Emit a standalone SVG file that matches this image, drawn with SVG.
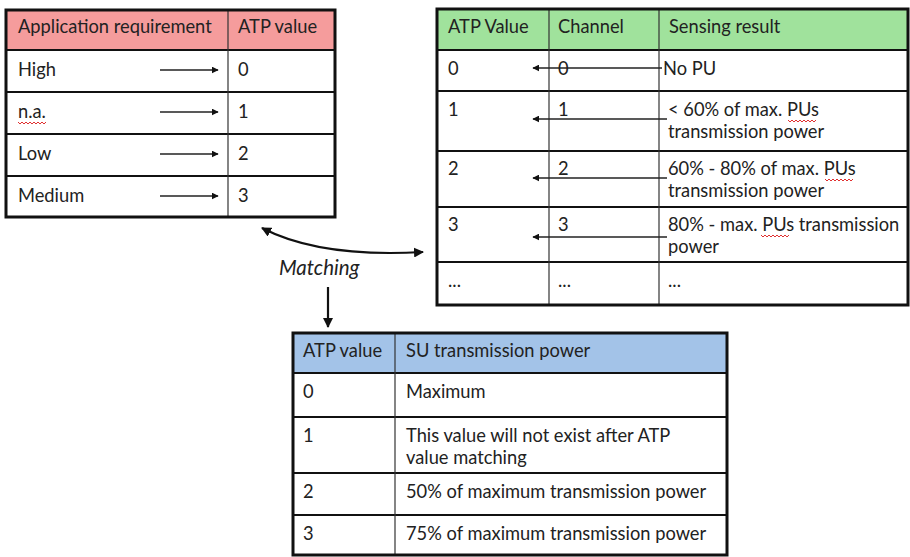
<svg xmlns="http://www.w3.org/2000/svg" width="910" height="557" viewBox="0 0 910 557">
  <style>
    text { font-family: "Lato", "Liberation Sans", sans-serif; font-size: 18.3px; fill: #222; }
    .italic { font-style: italic; font-size: 20.5px; }
    .frame { fill: none; stroke: #111; stroke-width: 3; }
    .hrule { stroke: #111; stroke-width: 2; }
    .vrule { stroke: #333; stroke-width: 1.2; }
    .thin { stroke: #222; stroke-width: 1.3; fill: none; }
    .bold { stroke: #111; stroke-width: 2.2; fill: none; }
    .spell { stroke: #e03030; stroke-width: 1; fill: none; }
  </style>
  <defs>
    <marker id="tri" viewBox="0 0 10 10" refX="9" refY="5" markerWidth="7" markerHeight="7" markerUnits="userSpaceOnUse" orient="auto">
      <path d="M0,0 L10,5 L0,10 Z" fill="#111"/>
    </marker>
    <marker id="head" viewBox="0 0 10 10" refX="9" refY="5" markerWidth="10" markerHeight="10" markerUnits="userSpaceOnUse" orient="auto-start-reverse">
      <path d="M0,0 L10,5 L0,10 Z" fill="#111"/>
    </marker>
    <!-- red proofing squiggle, placed under flagged words -->
    <path id="squiggle" class="spell" d="M0,0 l2,2 l2,-2 l2,2 l2,-2 l2,2 l2,-2 l2,2 l2,-2 l2,2 l2,-2 l2,2 l2,-2 l2,2 l2,-2"/>
  </defs>

  <rect width="910" height="557" fill="#fff"/>

  <!-- Application requirement -> ATP value -->
  <g id="requirement-table">
    <rect x="6" y="10" width="329" height="40" fill="#f59c9c"/>
    <line class="hrule" x1="6" y1="50" x2="335" y2="50"/>
    <line class="hrule" x1="6" y1="92" x2="335" y2="92"/>
    <line class="hrule" x1="6" y1="134" x2="335" y2="134"/>
    <line class="hrule" x1="6" y1="176" x2="335" y2="176"/>
    <line class="vrule" x1="228" y1="10" x2="228" y2="217"/>
    <rect class="frame" x="6" y="10" width="329" height="207"/>
    <text x="18" y="33">Application requirement</text>
    <text x="238" y="33">ATP value</text>
    <text x="18" y="76">High</text>
    <text x="238" y="76">0</text>
    <text x="18" y="118">n.a.</text>
    <text x="238" y="118">1</text>
    <text x="18" y="160">Low</text>
    <text x="238" y="160">2</text>
    <text x="18" y="202">Medium</text>
    <text x="238" y="202">3</text>
    <use href="#squiggle" x="18" y="122"/>
    <line class="thin" x1="160" y1="70" x2="218" y2="70" marker-end="url(#tri)"/>
    <line class="thin" x1="160" y1="112" x2="218" y2="112" marker-end="url(#tri)"/>
    <line class="thin" x1="160" y1="154" x2="218" y2="154" marker-end="url(#tri)"/>
    <line class="thin" x1="160" y1="196" x2="218" y2="196" marker-end="url(#tri)"/>
  </g>

  <!-- ATP value / channel / sensing result -->
  <g id="sensing-table">
    <rect x="437" y="9" width="472" height="41" fill="#a0e29c"/>
    <line class="hrule" x1="437" y1="50" x2="909" y2="50"/>
    <line class="hrule" x1="437" y1="91" x2="909" y2="91"/>
    <line class="hrule" x1="437" y1="151" x2="909" y2="151"/>
    <line class="hrule" x1="437" y1="207" x2="909" y2="207"/>
    <line class="hrule" x1="437" y1="262" x2="909" y2="262"/>
    <line class="vrule" x1="549" y1="9" x2="549" y2="305"/>
    <line class="vrule" x1="659" y1="9" x2="659" y2="305"/>
    <rect class="frame" x="437" y="9" width="471" height="296"/>
    <text x="448" y="33">ATP Value</text>
    <text x="558" y="33">Channel</text>
    <text x="669" y="33">Sensing result</text>

    <text x="448" y="75">0</text>
    <text x="558" y="75">0</text>
    <text x="663" y="75">No PU</text>

    <text x="448" y="116">1</text>
    <text x="558" y="116">1</text>
    <text x="668" y="116">&lt; 60% of max. PUs</text>
    <text x="668" y="138">transmission power</text>

    <text x="448" y="175">2</text>
    <text x="558" y="175">2</text>
    <text x="668" y="175">60% - 80% of max. PUs</text>
    <text x="668" y="197">transmission power</text>

    <text x="448" y="231">3</text>
    <text x="558" y="231">3</text>
    <text x="668" y="231">80% - max. PUs transmission</text>
    <text x="668" y="253">power</text>

    <text x="448" y="287">...</text>
    <text x="558" y="287">...</text>
    <text x="668" y="287">...</text>

    <use href="#squiggle" x="788" y="120"/>
    <use href="#squiggle" x="825" y="179"/>
    <use href="#squiggle" x="761" y="235"/>

    <line class="thin" x1="662" y1="68" x2="533" y2="68" marker-end="url(#tri)"/>
    <line class="thin" x1="667" y1="119" x2="533" y2="119" marker-end="url(#tri)"/>
    <line class="thin" x1="667" y1="178" x2="533" y2="178" marker-end="url(#tri)"/>
    <line class="thin" x1="667" y1="237" x2="533" y2="237" marker-end="url(#tri)"/>
  </g>

  <!-- ATP value -> SU transmission power -->
  <g id="power-table">
    <rect x="293" y="333" width="434" height="40" fill="#a3c3e8"/>
    <line class="hrule" x1="293" y1="373" x2="727" y2="373"/>
    <line class="hrule" x1="293" y1="417" x2="727" y2="417"/>
    <line class="hrule" x1="293" y1="473" x2="727" y2="473"/>
    <line class="hrule" x1="293" y1="515" x2="727" y2="515"/>
    <line class="vrule" x1="395" y1="333" x2="395" y2="555"/>
    <rect class="frame" x="293" y="333" width="434" height="222"/>
    <text x="303" y="357">ATP value</text>
    <text x="406" y="357">SU transmission power</text>
    <text x="303" y="398">0</text>
    <text x="406" y="398">Maximum</text>
    <text x="303" y="442">1</text>
    <text x="406" y="442">This value will not exist after ATP</text>
    <text x="406" y="464">value matching</text>
    <text x="303" y="498">2</text>
    <text x="406" y="498">50% of maximum transmission power</text>
    <text x="303" y="540">3</text>
    <text x="406" y="540">75% of maximum transmission power</text>
  </g>

  <g id="matching-label">
    <text class="italic" x="279" y="275">Matching</text>
  </g>

  <g id="connectors">
    <path class="bold" d="M262,228 Q320,258 423,252" marker-start="url(#head)" marker-end="url(#head)"/>
    <line class="bold" x1="328" y1="287" x2="328" y2="327" marker-end="url(#head)"/>
  </g>
</svg>
